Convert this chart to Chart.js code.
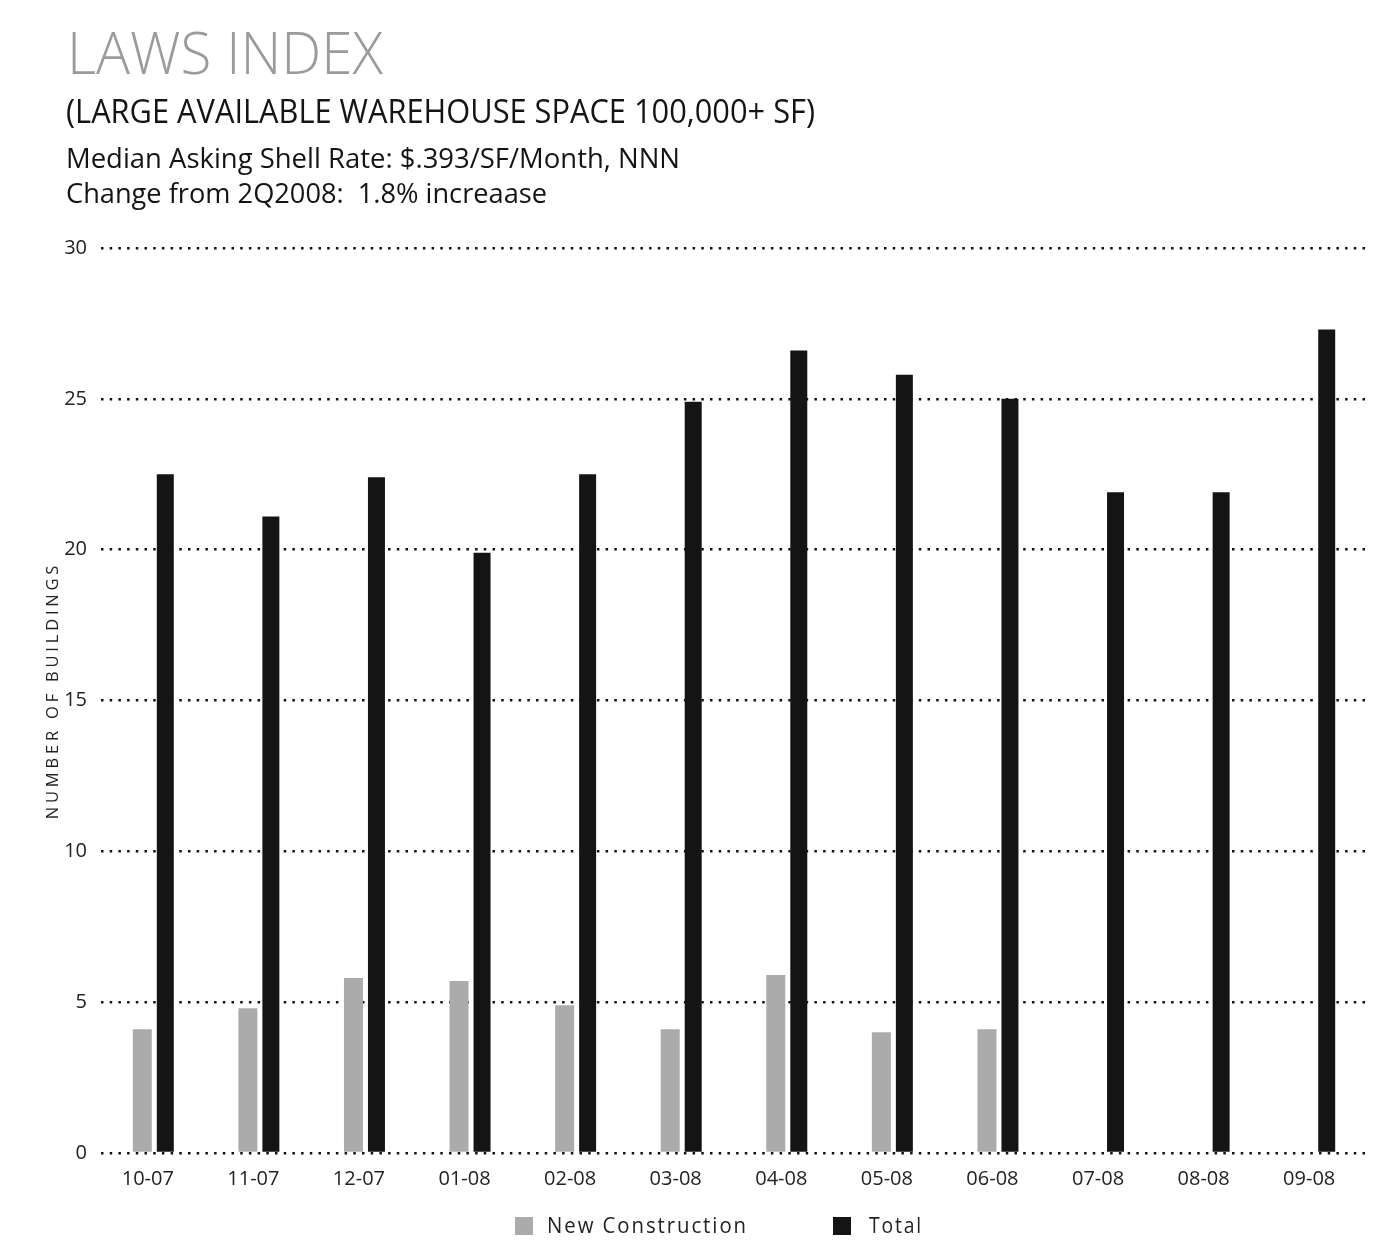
<!DOCTYPE html>
<html><head><meta charset="utf-8">
<script src="https://cdn.jsdelivr.net/npm/chart.js@4.4.0/dist/chart.umd.min.js"></script>
<style>
html,body{margin:0;padding:0;background:#fff;width:1400px;height:1254px;overflow:hidden;font-family:"Open Sans",sans-serif;}
#wrap{position:relative;width:1400px;height:1254px;}
canvas{position:absolute;left:0;top:0;}
.t{position:absolute;white-space:pre;line-height:1;transform-origin:0 0;}
.box{position:absolute;}
</style></head><body>
<div id="wrap">
<canvas id="c" width="1400" height="1254"></canvas>
</div>
<script>
// ---- data ----
const categories = ['10-07','11-07','12-07','01-08','02-08','03-08','04-08','05-08','06-08','07-08','08-08','09-08'];
const newConstruction = [4.1, 4.8, 5.8, 5.7, 4.9, 4.1, 5.9, 4.0, 4.1, null, null, null];
const total = [22.5, 21.1, 22.4, 19.9, 22.5, 24.9, 26.6, 25.8, 25.0, 21.9, 21.9, 27.3];
const seriesNames = ['New Construction', 'Total'];
const seriesColors = ['#ababab', '#141414'];
const yTicks = [0, 5, 10, 15, 20, 25, 30];
const titleText = 'LAWS INDEX';
const subtitleText = '(LARGE AVAILABLE WAREHOUSE SPACE 100,000+ SF)';
const noteLines = ['Median Asking Shell Rate: $.393/SF/Month, NNN', 'Change from 2Q2008:  1.8% increaase'];
const yTitle = 'NUMBER OF BUILDINGS';

const wrap = document.getElementById('wrap');
function place(text, left, baseline, fs, width, color, weight, spacing) {
  const d = document.createElement('div');
  d.className = 't';
  d.textContent = text;
  d.style.left = left + 'px';
  d.style.top = (baseline - 0.888 * fs) + 'px';
  d.style.fontSize = fs + 'px';
  d.style.color = color;
  d.style.fontWeight = weight || 400;
  if (spacing) d.style.letterSpacing = spacing + 'px';
  wrap.appendChild(d);
  const w = d.getBoundingClientRect().width;
  if (width) d.style.transform = 'scaleX(' + (width / w) + ')';
  return d;
}
place(titleText, 67, 75, 58, 316, '#9b9b9b', 300);
place(subtitleText, 66, 123, 33, 749, '#141414');
place(noteLines[0], 66, 168, 28, 614, '#141414');
place(noteLines[1], 66, 203, 28, 481, '#141414');

Chart.defaults.font.family = '"Open Sans", sans-serif';
Chart.defaults.color = '#222';

const spacingPlugin = {
  id: 'spacing',
  beforeDraw(chart) {
    const s = chart.scales.y;
    if (s && !s._patched) {
      const o = s.drawTitle;
      s.drawTitle = function () {
        const ctx = this.ctx;
        ctx.save();
        ctx.letterSpacing = '3.8px';
        ctx.translate(0, -10);
        o.apply(this, arguments);
        ctx.restore();
      };
      s._patched = true;
    }
  }
};

const chart = new Chart(document.getElementById('c'), {
  type: 'bar',
  data: {
    labels: categories,
    datasets: [
      { label: seriesNames[0], data: newConstruction, backgroundColor: seriesColors[0], barPercentage: 0.826, borderWidth: 0 },
      { label: seriesNames[1], data: total, backgroundColor: seriesColors[1], barPercentage: 0.739, borderWidth: 0 }
    ]
  },
  options: {
    responsive: false,
    animation: false,
    layout: { padding: { top: 248, left: 0, right: 32, bottom: 60 } },
    plugins: { legend: { display: false }, tooltip: { enabled: false } },
    datasets: { bar: { categoryPercentage: 0.4356 } },
    scales: {
      x: {
        grid: { display: false },
        border: { display: false },
        ticks: { font: { size: 20 }, color: '#222', padding: 6, labelOffset: -6, maxRotation: 0 },
        afterFit: s => { s.height = 41; }
      },
      y: {
        min: 0, max: 30,
        afterBuildTicks: s => { s.ticks = yTicks.map(v => ({ value: v })); },
        grid: { color: '#111', lineWidth: 2.5, drawTicks: false },
        border: { display: false, dash: [2.5, 6.2] },
        ticks: { font: { size: 20 }, color: '#222', padding: 14 },
        title: { display: true, text: yTitle, font: { size: 16.5 }, color: '#222', padding: { top: 43, bottom: 0 } },
        afterFit: s => { s.width = 101; }
      }
    }
  },
  plugins: [spacingPlugin]
});

// HTML legend built from the chart's datasets
const lgBoxX = [515, 833];
const lgTextX = [547, 869];
const lgTextW = [201, 54];
chart.data.datasets.forEach((ds, i) => {
  const b = document.createElement('div');
  b.className = 'box';
  b.style.left = lgBoxX[i] + 'px';
  b.style.top = '1217px';
  b.style.width = '18px';
  b.style.height = '18px';
  b.style.background = ds.backgroundColor;
  wrap.appendChild(b);
  place(ds.label, lgTextX[i], 1234, 21, lgTextW[i], '#222', 400, 2);
});
</script>
</body></html>
